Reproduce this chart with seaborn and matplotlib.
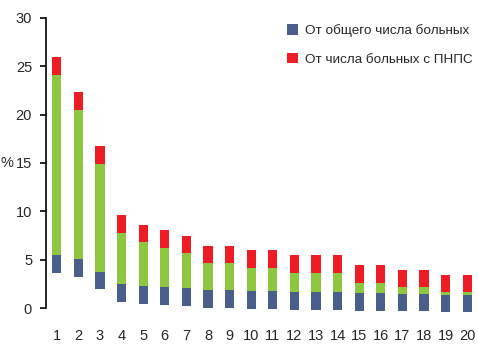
import matplotlib
matplotlib.use("Agg")
import matplotlib.pyplot as plt
import seaborn as sns
import numpy as np
from matplotlib.patches import Patch

categories = [str(i) for i in range(1, 21)]
blue_low = [3.67, 3.26, 2.0, 0.69, 0.44, 0.37, 0.27, 0.07, 0.07, -0.04,
            -0.04, -0.14, -0.14, -0.14, -0.25, -0.25, -0.31, -0.31, -0.41, -0.41]
blue_high = [5.47, 5.05, 3.75, 2.47, 2.27, 2.2, 2.1, 1.89, 1.89, 1.75,
             1.75, 1.68, 1.68, 1.68, 1.58, 1.58, 1.48, 1.48, 1.4, 1.4]
green_high = [24.1, 20.5, 14.9, 7.77, 6.8, 6.26, 5.67, 4.64, 4.64, 4.16,
              4.16, 3.64, 3.64, 3.64, 2.64, 2.64, 2.2, 2.2, 1.68, 1.68]
red_high = [25.9, 22.3, 16.75, 9.6, 8.6, 8.08, 7.46, 6.46, 6.46, 5.98,
            5.98, 5.47, 5.47, 5.47, 4.47, 4.47, 3.98, 3.98, 3.47, 3.47]
legend_labels = ["От общего числа больных", "От числа больных с ПНПС"]
y_ticks = [0, 5, 10, 15, 20, 25, 30]

BLUE = "#4a5e8c"
GREEN = "#8dc63f"
RED = "#ee1c25"

sns.set_style("white")
plt.rcParams['font.family'] = ['Liberation Sans', 'DejaVu Sans']

fig = plt.figure(figsize=(4.78, 3.54), dpi=100)
ax = fig.add_axes([46 / 478, 1 - 308.3 / 354, 1 - 46 / 478, (308.3 - 17.7) / 354])

bl = np.array(blue_low)
bh = np.array(blue_high)
gh = np.array(green_high)
rh = np.array(red_high)

common = dict(x=categories, order=categories, width=0.42, ax=ax,
              linewidth=0, clip_on=False, saturation=1)
sns.barplot(y=list(bh - bl), bottom=bl, color=BLUE, **common)
sns.barplot(y=list(gh - bh), bottom=bh, color=GREEN, **common)
sns.barplot(y=list(rh - gh), bottom=gh, color=RED, **common)

ax.set_xlim(-0.5, 19.5)
ax.set_ylim(0, 30)
ax.set_yticks(y_ticks)
ax.set_xlabel("")
ax.set_ylabel("")
for s in ["top", "right", "bottom"]:
    ax.spines[s].set_visible(False)
ax.spines["left"].set_color("black")
ax.spines["left"].set_linewidth(1.2)
ax.tick_params(axis="y", direction="out", length=4, width=1.2, color="black",
               labelsize=10.5, pad=6, left=True)
ax.tick_params(axis="x", length=0, labelsize=10.5, pad=15)

fig.text(7 / 478, 1 - 163 / 354, "%", fontsize=10.5, ha="center", va="center")

handles = [Patch(facecolor=BLUE, edgecolor="none"), Patch(facecolor=RED, edgecolor="none")]
fig.legend(handles, legend_labels, loc="upper left",
           bbox_to_anchor=(287 / 478, 1 - 24 / 354), frameon=False,
           fontsize=9.7, handlelength=0.85, handleheight=0.85,
           handletextpad=0.5, labelspacing=1.15, borderpad=0, borderaxespad=0)

fig.savefig("out.png", dpi=100)
